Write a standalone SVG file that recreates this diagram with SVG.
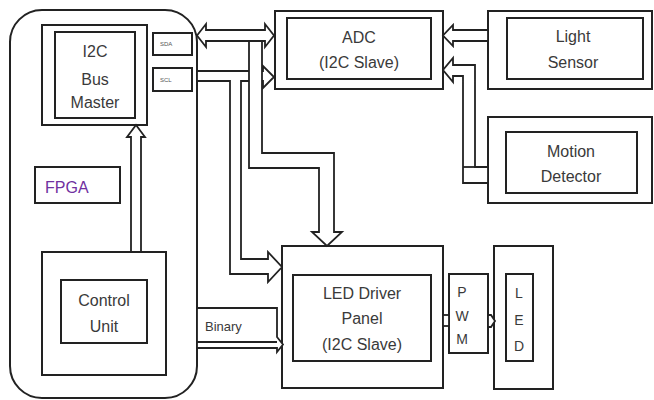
<svg xmlns="http://www.w3.org/2000/svg" width="654" height="400" viewBox="0 0 654 400">
<style>
.b{fill:#fff;stroke:#222;stroke-width:2}
.c{fill:#fff;stroke:#222;stroke-width:1.8;stroke-linejoin:miter}
.t{font-family:"Liberation Sans",Arial,sans-serif;font-size:16px;fill:#3a3a3a;text-anchor:middle}
.s{font-family:"Liberation Sans",Arial,sans-serif;font-size:6px;fill:#555}
.l{font-family:"Liberation Sans",Arial,sans-serif;font-size:14px;fill:#3a3a3a;text-anchor:middle}
</style>
<rect width="654" height="400" fill="#fff"/>
<g id="fpga">
<rect class="b" x="10" y="10" width="187" height="388" rx="32" ry="32"/>
<rect class="b" x="35" y="167" width="85" height="36"/>
<text x="45" y="193" style="font-family:'Liberation Sans',Arial,sans-serif;font-size:16px;fill:#7030A0">FPGA</text>
</g>
<g id="master">
<rect class="b" x="42" y="25" width="105" height="100"/>
<rect class="b" x="55" y="32" width="80" height="86"/>
<text class="t" x="95" y="57">I2C</text>
<text class="t" x="95" y="85">Bus</text>
<text class="t" x="95" y="108">Master</text>
</g>
<g id="sda">
<rect class="b" x="153" y="33" width="39" height="22"/>
<text class="s" x="160" y="46">SDA</text>
</g>
<g id="scl">
<rect class="b" x="153" y="68" width="39" height="23"/>
<text class="s" x="160" y="82">SCL</text>
</g>
<g id="control">
<rect class="b" x="42" y="252" width="124" height="123"/>
<rect class="b" x="61" y="280" width="86" height="63"/>
<text class="t" x="104" y="306">Control</text>
<text class="t" x="104" y="332">Unit</text>
</g>
<g id="adc">
<rect class="b" x="275" y="11" width="168" height="78"/>
<rect class="b" x="287" y="18" width="144" height="61"/>
<text class="t" x="359" y="43">ADC</text>
<text class="t" x="359" y="68">(I2C Slave)</text>
</g>
<g id="light">
<rect class="b" x="488" y="11" width="164" height="78"/>
<rect class="b" x="507" y="18" width="136" height="61"/>
<text class="t" x="573" y="42">Light</text>
<text class="t" x="573" y="68">Sensor</text>
</g>
<g id="motion">
<rect class="b" x="488" y="117" width="164" height="86"/>
<rect class="b" x="506" y="132" width="131" height="61"/>
<text class="t" x="571" y="157">Motion</text>
<text class="t" x="571" y="182">Detector</text>
</g>
<g id="driver">
<rect class="b" x="282" y="246" width="161" height="142"/>
<rect class="b" x="293" y="275" width="138" height="86"/>
<text class="t" x="362" y="299">LED Driver</text>
<text class="t" x="362" y="324">Panel</text>
<text class="t" x="362" y="350">(I2C Slave)</text>
</g>
<g id="pwm">
<rect class="b" x="449" y="274" width="39" height="79"/>
<text class="l" x="462" y="297">P</text>
<text class="l" x="462" y="321">W</text>
<text class="l" x="462" y="344">M</text>
</g>
<g id="led">
<rect class="b" x="494" y="246" width="59" height="143"/>
<rect class="b" x="506" y="274" width="27" height="87"/>
<text class="l" x="519" y="298">L</text>
<text class="l" x="519" y="325">E</text>
<text class="l" x="519" y="351">D</text>
</g>
<g id="connectors">
<polygon class="c" points="131,252 131,137 127,137 136,125 145,137 141,137 141,252"/>
<polygon class="c" points="197,35.5 206,24 206,30 265,30 265,24 274,35.5 265,47 265,41 206,41 206,47"/>
<polygon class="c" points="197,71 263,71 263,66 274,77 263,88 263,81 241,81 241,259 268,259 268,252 282,267 268,282 268,274 230,274 230,81 197,81"/>
<polygon class="c" points="249,41 249,168 319,168 319,232 312,232 327,246 342,232 334,232 334,153 262,153 262,41"/>
<polygon class="c" points="488,30 453,30 453,25 443,35.5 453,46 453,41 488,41"/>
<polygon class="c" points="488,167 475,167 475,65 453,65 453,58 443,70 453,82 453,76 463,76 463,183 488,183"/>
<line x1="463" y1="167" x2="475" y2="167" stroke="#222" stroke-width="1.8"/>
<polygon class="c" points="197,308 277,308 277,337 283,344.5 277,352 277,348 197,348"/>
<line x1="197" y1="342" x2="277" y2="342" stroke="#222" stroke-width="1.8"/>
<text x="205" y="331" style="font-family:'Liberation Sans',Arial,sans-serif;font-size:13px;fill:#3a3a3a">Binary</text>
<rect class="c" x="443" y="315" width="6" height="11"/>
<polygon class="c" points="488,315 491,315 495,321 491,327 488,327"/>
</g>
</svg>
